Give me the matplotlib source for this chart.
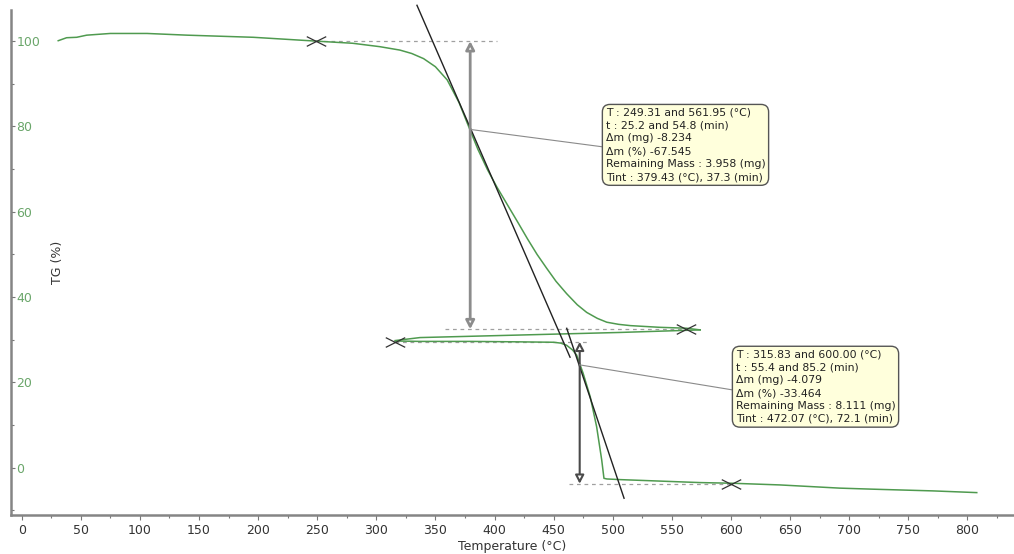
import matplotlib
matplotlib.use('Agg')
import matplotlib.pyplot as plt
from matplotlib.path import Path
from matplotlib.patches import FancyArrowPatch, ArrowStyle
from matplotlib.ticker import MultipleLocator

# ---- data ----
temp_run1 = [30.9, 38, 46.5, 55, 75, 106, 140, 196, 249.3, 280, 303, 320, 330, 340, 350,
             360, 370, 379.4, 386, 394, 402, 411, 420, 428, 436, 444, 452, 461, 470, 478,
             487, 495, 505, 515, 540, 562, 574]
tg_run1 = [100.1, 100.8, 100.9, 101.4, 101.8, 101.8, 101.4, 100.9, 100.0, 99.5, 98.7, 97.9,
           97.1, 95.9, 94.0, 90.9, 85.6, 79.1, 74.6, 69.9, 65.8, 61.6, 57.4, 53.6, 50.0,
           46.8, 43.7, 40.8, 38.2, 36.4, 35.0, 34.1, 33.6, 33.3, 32.9, 32.7, 32.3]
temp_return = [574, 506, 422, 337, 316]
tg_return = [32.3, 31.7, 31.1, 30.5, 29.8]
temp_run2 = [316, 337, 380, 420, 450, 456, 461, 466, 469.5, 475, 481, 486.4, 490.7, 492.6,
             495, 506, 574, 600.4, 641.5, 692, 720.5, 771, 808]
tg_run2 = [29.7, 29.6, 29.6, 29.5, 29.4, 29.2, 28.7, 27.6, 26.4, 22.1, 16.6, 9.6, 1.8, -2.5,
           -2.65, -2.8, -3.5, -3.65, -4.05, -4.8, -5.05, -5.45, -5.85]

# step analysis (two steps)
step_start_T = [249.31, 315.83]
step_end_T = [561.95, 600.00]
step_start_tg = [100.0, 29.5]
step_end_tg = [32.455, -3.76]
step_tint = [379.43, 472.07]
step_tint_tg = [79.3, 24.1]
tangent_T = [[334.4, 463.9], [461.1, 509.6]]
tangent_tg = [[108.4, 25.9], [32.67, -7.17]]
upper_dash_end_T = [402, 481]
lower_dash_start_T = [358, 463]
box_anchor_T = [492.0, 602.0]
box_anchor_tg = [75.2, 18.2]
box_text_T = [494.0, 604.0]
box_text_tg = [84.4, 27.7]
box_texts = [
    "T : 249.31 and 561.95 (°C)\nt : 25.2 and 54.8 (min)\nΔm (mg) -8.234\nΔm (%) -67.545\n"
    "Remaining Mass : 3.958 (mg)\nTint : 379.43 (°C), 37.3 (min)",
    "T : 315.83 and 600.00 (°C)\nt : 55.4 and 85.2 (min)\nΔm (mg) -4.079\nΔm (%) -33.464\n"
    "Remaining Mass : 8.111 (mg)\nTint : 472.07 (°C), 72.1 (min)",
]
arrow_colors = ['#8c8c8c', '#4a4a4a']
arrow_widths = [2.0, 1.5]

green = '#4f9a4f'
W, H = 1014, 554
fig = plt.figure(figsize=(W / 100, H / 100), dpi=100)
ax = fig.add_axes([11 / W, 1 - 515 / H, (W - 11) / W, (515 - 10) / H])
ax.set_xlim(-9.05, 839.5)
ax.set_ylim(-11.1, 107.3)

# curves
ax.plot(temp_run1, tg_run1, color=green, lw=1.1, zorder=3)
ax.plot(temp_return, tg_return, color=green, lw=1.1, zorder=3)
ax.plot(temp_run2, tg_run2, color=green, lw=1.1, zorder=3)

xmark = Path([(-1, -0.5), (1, 0.5), (-1, 0.5), (1, -0.5)],
             [Path.MOVETO, Path.LINETO, Path.MOVETO, Path.LINETO])

for i in range(2):
    # dashed guide lines
    ax.plot([step_start_T[i], upper_dash_end_T[i]], [step_start_tg[i]] * 2,
            color='#a0a0a0', lw=0.9, ls=(0, (3, 3)), zorder=2)
    ax.plot([lower_dash_start_T[i], step_end_T[i]], [step_end_tg[i]] * 2,
            color='#a0a0a0', lw=0.9, ls=(0, (3, 3)), zorder=2)
    # tangent
    ax.plot(tangent_T[i], tangent_tg[i], color='#222222', lw=1.0, zorder=4, clip_on=False)
    # markers
    ax.plot([step_start_T[i], step_end_T[i]], [step_start_tg[i], step_end_tg[i]],
            ls='none', marker=xmark, ms=14, mew=0.9, color='#333333', zorder=5)
    # double arrow
    arr = FancyArrowPatch((step_tint[i], step_start_tg[i]), (step_tint[i], step_end_tg[i]),
                          arrowstyle=ArrowStyle('<|-|>', head_length=5.0, head_width=2.6),
                          mutation_scale=1, shrinkA=0, shrinkB=0,
                          facecolor='white', edgecolor=arrow_colors[i],
                          lw=arrow_widths[i], zorder=4)
    ax.add_patch(arr)
    # connector
    ax.plot([step_tint[i], box_anchor_T[i]], [step_tint_tg[i], box_anchor_tg[i]],
            color='#8a8a8a', lw=0.8, zorder=4)
    # info box
    ax.text(box_text_T[i], box_text_tg[i], box_texts[i], ha='left', va='top',
            fontsize=7.8, linespacing=1.36, color='#222222', zorder=6,
            bbox=dict(boxstyle='round,pad=0.3,rounding_size=0.7',
                      fc='#ffffdc', ec='#555555', lw=1.0))

# axes styling
for s in ['top', 'right']:
    ax.spines[s].set_visible(False)
for s in ['left', 'bottom']:
    ax.spines[s].set_color('#858585')
    ax.spines[s].set_linewidth(1.8)

ax.xaxis.set_major_locator(MultipleLocator(50))
ax.xaxis.set_minor_locator(MultipleLocator(25))
ax.yaxis.set_major_locator(MultipleLocator(20))
ax.yaxis.set_minor_locator(MultipleLocator(10))
ax.tick_params(axis='x', which='major', direction='out', length=3.6, width=0.8,
               color='#777777', labelsize=9, labelcolor='#333333', pad=3)
ax.tick_params(axis='x', which='minor', direction='out', length=2.5, width=0.8, color='#777777')
ax.tick_params(axis='y', which='major', direction='in', length=3, width=0.8,
               color='#777777', labelsize=9, labelcolor='#6aa66a', pad=-4)
ax.tick_params(axis='y', which='minor', direction='in', length=2.2, width=0.8, color='#777777')
plt.setp(ax.get_yticklabels(), ha='left')

ax.set_xlabel('Temperature (°C)', fontsize=9, color='#333333', labelpad=2)
ax.text((57 - 11) / (W - 11), (515 - 262) / 505, 'TG (%)', rotation=90, ha='center',
        va='center', fontsize=9, color='#333333', transform=ax.transAxes)

fig.savefig('out.png', dpi=100)
